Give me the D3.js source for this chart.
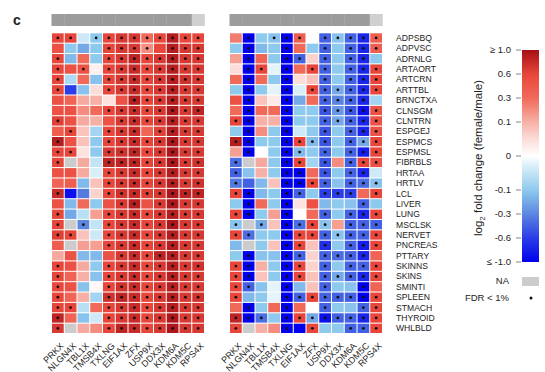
<!DOCTYPE html>
<html>
<head>
<meta charset="utf-8">
<script src="https://cdn.jsdelivr.net/npm/d3@7"></script>
<style>
  body { margin: 0; background: #fff; }
  text { font-family: "Liberation Sans", Arial, sans-serif; fill: #222; }
</style>
</head>
<body>
<script>
// genes along x, tissues along y
const genes = ['PRKX', 'NLGN4X', 'TBL1X', 'TMSB4X', 'TXLNG', 'EIF1AX', 'ZFX', 'USP9X', 'DDX3X', 'KDM6A', 'KDM5C', 'RPS4X']
const geneBar = [1, 1, 1, 1, 1, 1, 1, 1, 1, 1, 1, 0]
const tissues = ['ADPSBQ', 'ADPVSC', 'ADRNLG', 'ARTAORT', 'ARTCRN', 'ARTTBL', 'BRNCTXA', 'CLNSGM', 'CLNTRN', 'ESPGEJ',
    'ESPMCS', 'ESPMSL', 'FIBRBLS', 'HRTAA', 'HRTLV', 'LCL', 'LIVER', 'LUNG', 'MSCLSK', 'NERVET', 'PNCREAS', 'PTTARY',
    'SKINNS', 'SKINS', 'SMINTI', 'SPLEEN', 'STMACH', 'THYROID', 'WHLBLD']

// left panel: log2 fold change, null = NA
const leftValues = [
    [0.6, 0.6, -0.04, -0.1, 0.6, 0.7, 0.7, 0.3, 0.6, 0.9, 0.6, 0.6],
    [0.5, -0.1, -0.2, -0.1, 0.6, 0.7, 0.7, 0.2, 0.6, 0.9, 0.7, 0.7],
    [0.6, -0.15, 0.3, -0.1, 0.6, 0.7, 0.85, 0.6, 0.7, 0.9, 0.7, 0.7],
    [0.6, 0.5, 0.5, 0.02, 0.6, 0.7, 0.8, 0.6, 0.7, 0.9, 0.7, 0.7],
    [0.6, -0.07, 0.3, -0.12, 0.6, 0.7, 0.8, 0.6, 0.7, 0.9, 0.75, 0.7],
    [0.6, -0.6, -0.12, 0.05, 0.6, 0.7, 0.8, 0.6, 0.7, 0.9, 0.7, 0.7],
    [0.5, 0.35, 0.12, 0.1, 0.04, 0.5, 0.9, 0.6, 0.7, 0.9, 0.7, 0.7],
    [0.5, 0.5, 0.2, 0.3, 0.6, 0.7, 0.8, 0.6, 0.7, 0.95, 0.7, 0.85],
    [0.65, 0.5, 0.12, 0.1, 0.5, 0.7, 0.8, 0.6, 0.7, 0.9, 0.7, 0.7],
    [0.4, 0.6, 0.08, -0.08, 0.6, 0.7, 0.8, 0.35, 0.65, 0.9, 0.7, 0.7],
    [0.9, 0.5, 0.08, -0.1, 0.6, 0.7, 0.8, 0.6, 0.7, 0.95, 0.7, 0.7],
    [0.6, 0.6, 0.04, -0.1, 0.7, 0.75, 0.85, 0.6, 0.7, 0.95, 0.7, 0.7],
    [0.6, null, 0.12, -0.05, 0.85, 0.85, 0.85, 0.6, 0.7, 0.95, 0.7, 0.75],
    [0.5, 0.5, 0.12, -0.03, 0.6, 0.7, 0.8, 0.6, 0.7, 0.9, 0.7, 0.7],
    [0.35, 0.4, -0.15, 0.08, 0.6, 0.7, 0.8, 0.6, 0.7, 0.9, 0.7, 0.75],
    [0.8, -0.9, -0.35, 0.06, 0.6, 0.75, 0.8, 0.65, 0.7, 0.95, 0.85, 0.85],
    [0.5, -0.15, 0.3, -0.1, 0.5, 0.7, 0.9, 0.5, 0.7, 0.95, 0.7, 0.7],
    [0.6, -0.2, -0.06, 0.15, 0.6, 0.7, 0.8, 0.6, 0.7, 0.9, 0.7, 0.7],
    [0.6, null, -0.3, -0.05, 0.6, 0.7, 0.8, 0.6, 0.7, 0.95, 0.7, 0.7],
    [0.65, 0.6, 0.08, -0.04, 0.6, 0.7, 0.8, 0.6, 0.7, 0.9, 0.7, 0.7],
    [0.4, null, 0.15, 0.15, 0.6, 0.7, 0.8, 0.6, 0.7, 0.9, 0.7, 0.7],
    [0.12, 0.5, -0.15, -0.15, 0.5, 0.7, 0.8, 0.6, 0.85, 0.9, 0.7, 0.7],
    [0.6, 0.5, 0.12, -0.1, 0.6, 0.7, 0.8, 0.6, 0.7, 0.9, 0.7, 0.75],
    [0.6, 0.35, 0.1, -0.12, 0.6, 0.7, 0.8, 0.6, 0.7, 0.9, 0.7, 0.7],
    [0.6, 0.5, -0.12, 0.01, 0.6, 0.75, 0.8, 0.6, 0.7, 0.9, 0.7, 0.7],
    [0.6, 0.35, 0.1, -0.08, 0.75, 0.85, 0.8, 0.6, 0.7, 0.9, 0.7, 0.75],
    [0.6, 0.6, -0.06, 0.3, 0.6, 0.7, 0.8, 0.6, 0.7, 0.9, 0.7, 0.7],
    [0.85, 0.35, -0.12, -0.04, 0.6, 0.7, 0.8, 0.6, 0.7, 0.95, 0.7, 0.7],
    [0.7, null, 0.12, 0.2, 0.6, 0.85, 0.8, 0.6, 0.7, 0.95, 0.7, 0.7]
]
// FDR < 1% flags, one string per tissue
const leftSig = [
    '110111111111', '000011110111', '100011111111', '101011111111', '100011111111', '100011111111',
    '000000111111', '000011111111', '100001111111', '010011101111', '100011111111', '110011111111',
    '100011111111', '000011111111', '000011111111', '100011111111', '000001101111', '100011111111',
    '101011111111', '110011111111', '000011111111', '000001111111', '100011111111', '100011111111',
    '100011111111', '100011111111', '110011111111', '100011111111', '100011111111'
]

const rightValues = [
    [0.25, -1, -0.1, -0.12, -1, 0.4, 0.0, -0.45, -0.12, -0.45, -0.75, 0.4],
    [-0.1, -1, -0.15, -0.1, -1, 0.3, -0.1, -0.45, -0.1, -0.45, -0.75, 0.4],
    [0.15, -1, 0.35, -0.1, -1, -0.45, 0.06, -0.45, -0.1, -0.45, -0.75, -0.1],
    [0.05, -1, 0.6, -0.02, -1, 0.3, 0.6, -0.45, -0.1, -0.45, -0.75, 0.6],
    [0.3, -1, 0.3, -0.1, -1, 0.05, 0.08, -0.45, -0.1, -0.45, -0.75, 0.6],
    [-0.1, -1, -0.1, -0.02, -1, -0.03, 0.6, -0.45, -0.2, -0.45, -0.75, 0.6],
    [0.5, -1, 0.08, 0.03, -1, -0.2, 0.3, -0.45, -0.3, -0.45, -0.75, -0.08],
    [0.3, -1, 0.3, 0.3, -1, -0.1, -0.1, -0.5, -0.25, -0.5, -0.9, 0.5],
    [0.6, -1, 0.1, 0.1, -1, -0.1, -0.1, -0.45, -0.2, -0.45, -0.75, 0.5],
    [-0.1, -1, 0.2, -0.1, -1, -0.04, -0.1, -0.5, -0.1, -0.45, -0.75, 0.5],
    [0.9, -1, -0.1, -0.1, -1, 0.6, -0.15, -0.5, -0.1, -0.45, -0.2, 0.6],
    [0.15, -1, 0.0, -0.1, -1, -0.15, -0.1, -0.45, -0.1, -0.45, -0.8, 0.6],
    [-0.4, null, 0.12, -0.1, -1, 0.6, -0.08, -0.5, 0.2, -0.45, 0.6, 0.5],
    [-0.45, -0.12, 0.1, -0.1, -1, -1, 0.3, -0.5, -0.1, -0.45, -0.75, -0.04],
    [-0.35, -0.45, -0.15, 0.08, -1, -1, 0.6, -0.45, -0.12, -0.45, -0.4, -0.12],
    [0.6, -1, -0.15, -0.1, -1, -0.45, -0.1, -0.6, -0.6, -0.6, 0.3, 0.6],
    [-0.1, -1, 0.3, -0.1, -1, 0.04, 0.5, -0.15, -0.1, -0.12, -0.45, -0.1],
    [0.6, -1, -0.1, 0.15, -1, 0.0, 0.3, -0.45, -0.1, -0.45, -0.75, 0.6],
    [-0.12, null, -0.2, 0.08, -1, -0.4, 0.6, -0.12, 0.15, -0.45, -0.45, -0.45],
    [0.6, -0.4, -0.1, -0.1, -1, 0.6, 0.6, -0.45, -0.12, -0.45, -0.45, 0.6],
    [-0.15, null, -0.1, 0.08, -1, 0.6, 0.08, -0.7, -0.1, -0.45, -0.8, 0.6],
    [-0.1, -1, -0.12, -0.12, -1, -0.45, 0.06, -0.45, -0.4, -0.45, -0.75, 0.35],
    [0.6, -1, 0.1, -0.1, -1, 0.6, 0.06, -0.45, -0.1, -0.45, -0.45, 0.6],
    [0.6, -1, 0.08, -0.1, -1, 0.6, 0.08, -0.45, -0.2, -0.45, -0.75, 0.6],
    [0.6, -0.45, -0.12, -0.02, -1, -0.15, 0.08, -0.45, -0.1, -0.12, -1, 0.35],
    [0.6, -0.15, -0.1, -0.02, -1, -0.45, 0.6, -0.45, -0.45, -0.45, -1, 0.6],
    [0.3, -1, -0.1, 0.3, -1, 0.3, 0.0, -0.45, -0.1, -0.12, -0.45, 0.6],
    [0.85, -1, -0.4, -0.1, -1, 0.6, -0.2, -0.9, -0.45, -0.45, -0.75, 0.6],
    [0.6, null, 0.1, 0.2, -1, -1, 0.6, -0.1, -0.1, -0.45, -0.45, 0.6]
]
const rightSig = [
    '010111011111', '010010010111', '010011010110', '011010110111', '010010010111', '010010111111',
    '010010011110', '010010011111', '110010011111', '010010010111', '110011110111', '010011010111',
    '100011010111', '100011010110', '100011110111', '110011011101', '010010000010', '110010010111',
    '101011110111', '110011111111', '000011010111', '010011011110', '110011010111', '110011011111',
    '110010010010', '100011111111', '010010010011', '111011111111', '100010100111'
]

const legendTicks = [-1, -0.6, -0.3, -0.1, 0, 0.1, 0.3, 0.6, 1]
const legendLabels = ['\u2264 -1.0', '-0.6', '-0.3', '-0.1', '0', '0.1', '0.3', '0.6', '\u2265 1.0']


const color = d3.scaleLinear()
    .domain([-1, -0.6, -0.3, -0.1, -0.03, 0, 0.05, 0.1, 0.3, 0.6, 1])
    .range(['#0000ee', '#2a3de6', '#5b86e0', '#8ecaee', '#d8eef8', '#ffffff', '#fbdcd8', '#f7b0a6', '#f06a5a', '#e8463a', '#a50f15'])
    .clamp(true)

const svg = d3.select('body').append('svg')
    .attr('width', 545)
    .attr('height', 372)

svg.append('text')
    .attr('x', 13).attr('y', 25)
    .style('font-size', '14px').style('font-weight', 'bold')
    .text('c')

const y = d3.scaleBand().domain(tissues).range([33.3, 333]).paddingInner(0.1)

function drawPanel(x0, x1, values, sig) {
    const x = d3.scaleBand().domain(genes).range([x0, x1]).paddingInner(0.08)
    const g = svg.append('g')

    // grey bar on top
    g.selectAll('.bar').data(genes).join('rect')
        .attr('x', d => x(d) - x.step() * x.paddingInner() / 2)
        .attr('width', x.step() + 0.3)
        .attr('y', 14).attr('height', 12)
        .attr('fill', (d, i) => geneBar[i] ? '#9c9c9c' : '#d0d0d0')

    const cells = []
    values.forEach((row, r) => row.forEach((v, c) => {
        cells.push({ tissue: tissues[r], gene: genes[c], v, s: sig[r][c] === '1' })
    }))

    g.selectAll('.cell').data(cells).join('rect')
        .attr('x', d => x(d.gene))
        .attr('y', d => y(d.tissue))
        .attr('width', x.bandwidth())
        .attr('height', y.bandwidth())
        .attr('fill', d => d.v === null ? '#cccccc' : color(d.v))

    g.selectAll('.dot').data(cells.filter(d => d.s)).join('circle')
        .attr('cx', d => x(d.gene) + x.bandwidth() / 2)
        .attr('cy', d => y(d.tissue) + y.bandwidth() / 2)
        .attr('r', 1.4)
        .attr('fill', '#111')

    g.selectAll('.lab').data(genes).join('text')
        .attr('transform', d => `translate(${x(d) + x.bandwidth() / 2 + 2},${342}) rotate(-45)`)
        .attr('text-anchor', 'end')
        .attr('dy', '0.7em')
        .style('font-size', '9px')
        .text(d => d)
}

drawPanel(52, 204, leftValues, leftSig)
drawPanel(230, 382, rightValues, rightSig)

// row labels
svg.append('g').selectAll('text').data(tissues).join('text')
    .attr('x', 396)
    .attr('y', d => y(d) + y.bandwidth() / 2)
    .attr('dy', '0.35em')
    .style('font-size', '8.6px')
    .text(d => d)

// colour legend
const legendY = d3.scaleLinear()
    .domain(legendTicks)
    .range([262, 238, 214, 190, 156, 122, 98, 74, 50])

const defs = svg.append('defs')
const grad = defs.append('linearGradient').attr('id', 'cbar')
    .attr('x1', 0).attr('x2', 0).attr('y1', 0).attr('y2', 1)
d3.range(0, 101).forEach(i => {
    const py = 50 + i * 2.12
    grad.append('stop').attr('offset', i + '%').attr('stop-color', color(legendY.invert(py)))
})

svg.append('rect')
    .attr('x', 522).attr('y', 50).attr('width', 17).attr('height', 212)
    .attr('fill', 'url(#cbar)')

const lg = svg.append('g')
lg.selectAll('line').data(legendTicks).join('line')
    .attr('x1', 516).attr('x2', 521)
    .attr('y1', d => legendY(d)).attr('y2', d => legendY(d))
    .attr('stroke', '#666').attr('stroke-width', 0.8)
lg.selectAll('text').data(legendTicks).join('text')
    .attr('x', 511)
    .attr('y', d => legendY(d))
    .attr('dy', '0.35em')
    .attr('text-anchor', 'end')
    .style('font-size', '9.5px')
    .text((d, i) => legendLabels[i])

const title = svg.append('text')
    .attr('transform', 'translate(482,158) rotate(-90)')
    .attr('text-anchor', 'middle')
    .style('font-size', '11.5px')
title.append('tspan').text('log')
title.append('tspan').attr('dy', 3).style('font-size', '8px').text('2')
title.append('tspan').attr('dy', -3).text(' fold change (female/male)')

// NA and FDR keys
svg.append('text').attr('x', 509).attr('y', 281).attr('dy', '0.35em')
    .attr('text-anchor', 'end').style('font-size', '9.5px').text('NA')
svg.append('rect').attr('x', 522).attr('y', 277).attr('width', 17).attr('height', 9).attr('fill', '#cccccc')
svg.append('text').attr('x', 509).attr('y', 298).attr('dy', '0.35em')
    .attr('text-anchor', 'end').style('font-size', '9.5px').text('FDR < 1%')
svg.append('circle').attr('cx', 531).attr('cy', 298).attr('r', 1.5).attr('fill', '#111')
</script>
</body>
</html>
